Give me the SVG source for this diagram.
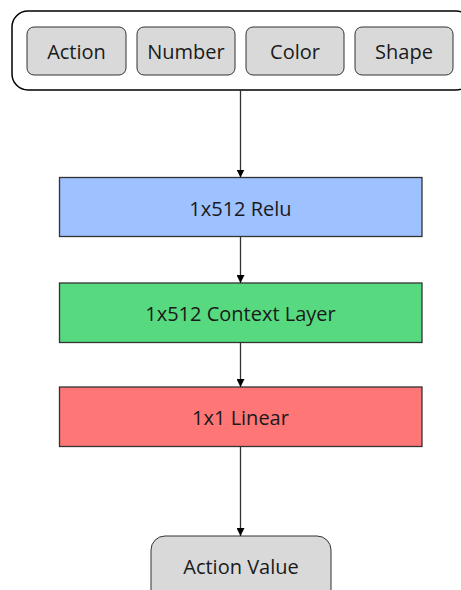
<svg xmlns="http://www.w3.org/2000/svg" width="461" height="590" viewBox="0 0 461 590">
  <style>
    text { font-family: "Open Sans", "Noto Sans", sans-serif; font-size: 20px; fill: #1a1a1a; text-anchor: middle; dominant-baseline: central; }
    .pill { fill: #d9d9d9; stroke: #333333; stroke-width: 1; }
    .layer { stroke: #333333; stroke-width: 1.3; }
    .edge { stroke: #333333; stroke-width: 1.3; fill: none; marker-end: url(#arrow); }
  </style>
  <defs>
    <marker id="arrow" viewBox="0 0 10 10" refX="10" refY="5" markerWidth="8" markerHeight="8" markerUnits="userSpaceOnUse" orient="auto">
      <path d="M0,0 L10,5 L0,10 Z" fill="#000"/>
    </marker>
  </defs>

  <g id="inputs">
    <rect x="12" y="11" width="460" height="79" rx="16" fill="#fff" stroke="#000" stroke-width="1.5"/>
    <g id="action">
      <rect class="pill" x="27" y="27" width="99" height="48" rx="7"/>
      <text x="76.5" y="51">Action</text>
    </g>
    <g id="number">
      <rect class="pill" x="137" y="27" width="98" height="48" rx="7"/>
      <text x="186" y="51">Number</text>
    </g>
    <g id="color">
      <rect class="pill" x="246" y="27" width="98" height="48" rx="7"/>
      <text x="295" y="51">Color</text>
    </g>
    <g id="shape">
      <rect class="pill" x="355" y="27" width="98" height="48" rx="7"/>
      <text x="404" y="51">Shape</text>
    </g>
  </g>

  <g id="relu">
    <rect class="layer" x="59.5" y="177.5" width="362.5" height="59" fill="#9ec1ff"/>
    <text x="240.5" y="208">1x512 Relu</text>
  </g>

  <g id="context">
    <rect class="layer" x="59.5" y="283" width="362.5" height="59.5" fill="#57d97f"/>
    <text x="240.5" y="313">1x512 Context Layer</text>
  </g>

  <g id="linear">
    <rect class="layer" x="59.5" y="387" width="362.5" height="59.5" fill="#ff7676"/>
    <text x="240.5" y="417">1x1 Linear</text>
  </g>

  <g id="action-value">
    <rect x="151" y="536" width="180" height="70" rx="14" fill="#d9d9d9" stroke="#333333" stroke-width="1"/>
    <text x="241" y="566">Action Value</text>
  </g>

  <g id="connectors">
    <line class="edge" x1="240.5" y1="90" x2="240.5" y2="177.5"/>
    <line class="edge" x1="240.5" y1="236.5" x2="240.5" y2="283"/>
    <line class="edge" x1="240.5" y1="342.5" x2="240.5" y2="387"/>
    <line class="edge" x1="240.5" y1="446.5" x2="240.5" y2="536"/>
  </g>
</svg>
